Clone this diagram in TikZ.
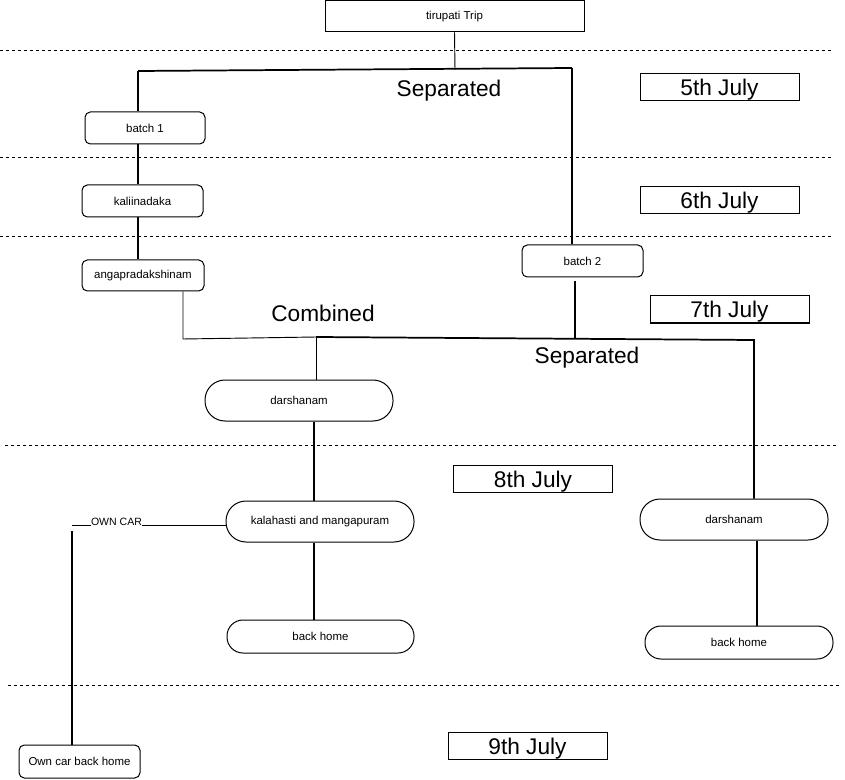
\documentclass[tikz,border=0pt]{standalone}
\usepackage{fontspec}
\setmainfont{Liberation Sans}
\begin{document}
\begin{tikzpicture}[x=0.75pt,y=-0.75pt,
  sharpbox/.style={draw,rectangle,line width=0.75pt,inner sep=0pt,font=\fontsize{8.6}{10}\selectfont},
  roundbox/.style={draw,rectangle,rounded corners=4pt,line width=0.75pt,inner sep=0pt,font=\fontsize{8.6}{10}\selectfont},
  pillbox/.style={draw,rectangle,rounded corners=15pt,line width=0.75pt,inner sep=0pt,font=\fontsize{8.6}{10}\selectfont},
  pillsmall/.style={draw,rectangle,rounded corners=12pt,line width=0.75pt,inner sep=0pt,font=\fontsize{8.6}{10}\selectfont},
  datebox/.style={draw,rectangle,line width=0.75pt,inner sep=0pt,minimum width=119.25pt,minimum height=20.25pt,text depth=0pt,font=\fontsize{17}{20}\selectfont},
  biglabel/.style={inner sep=0pt,yshift=-2pt,font=\fontsize{17}{20}\selectfont},
  smalllabel/.style={inner sep=0pt,font=\fontsize{7.9}{9}\selectfont},
  sepline/.style={line width=0.75pt,dash pattern=on 2.25pt off 2.25pt},
  link/.style={line width=1.3pt},
  thinlink/.style={line width=0.7pt}]
\useasboundingbox (0,0) rectangle (845,780);

% dashed day separators
\coordinate (s1a) at (0,51);  \coordinate (s1b) at (833,51);
\coordinate (s2a) at (0,158); \coordinate (s2b) at (833,158);
\coordinate (s3a) at (0,237); \coordinate (s3b) at (833,237);
\coordinate (s4a) at (5,445); \coordinate (s4b) at (837,445);
\coordinate (s5a) at (8,685); \coordinate (s5b) at (840,685);
\draw[sepline] (s1a) -- (s1b);
\draw[sepline] (s2a) -- (s2b);
\draw[sepline] (s3a) -- (s3b);
\draw[sepline] (s4a) -- (s4b);
\draw[sepline] (s5a) -- (s5b);

% nodes
\node[sharpbox,minimum width=194.25pt,minimum height=23.25pt] (trip) at (454.5,16.5) {tirupati Trip};
\node[roundbox,minimum width=90pt,minimum height=24pt] (batch1) at (145,128) {batch 1};
\node[roundbox,minimum width=90.75pt,minimum height=24pt] (kali) at (142.5,201) {kaliinadaka};
\node[roundbox,minimum width=91.5pt,minimum height=23.25pt] (anga) at (143,275.5) {angapradakshinam};
\node[roundbox,minimum width=90.75pt,minimum height=24pt] (batch2) at (582.5,261) {batch 2};
\node[pillbox,minimum width=141pt,minimum height=30.75pt] (dars1) at (299,400.5) {darshanam};
\node[pillbox,minimum width=141pt,minimum height=30.75pt] (kala) at (320,521.5) {kalahasti and mangapuram};
\node[pillsmall,minimum width=140.25pt,minimum height=24.75pt] (home1) at (320.5,636.5) {back home};
\node[pillbox,minimum width=141pt,minimum height=30.75pt] (dars2) at (734,519.5) {darshanam};
\node[pillsmall,minimum width=141pt,minimum height=24.75pt] (home2) at (739,642.5) {back home};
\node[roundbox,minimum width=90.75pt,minimum height=24.75pt] (owncar) at (79.5,761.5) {Own car back home};

% date boxes
\node[datebox] (d5) at (719.5,87) {5th July};
\node[datebox] (d6) at (719.5,200.5) {6th July};
\node[datebox] (d7) at (729.5,309.5) {7th July};
\node[datebox] (d8) at (533,479) {8th July};
\node[datebox] (d9) at (527.5,746) {9th July};

% labels
\node[biglabel] (sep1) at (449,88) {Separated};
\node[biglabel] (comb) at (323,311) {Combined};
\node[biglabel] (sep2) at (587,355) {Separated};
\node[smalllabel] (ocl) at (116.5,522) {OWN CAR};

% junction coordinates
\coordinate (j0) at (455,70);
\coordinate (jL) at (138,71);
\coordinate (jR) at (572,68);
\coordinate (c1) at (183,339);
\coordinate (c2) at (316,337);
\coordinate (c3) at (754,340);
\coordinate (c4) at (575,339);
\coordinate (c4t) at (575,281);
\coordinate (v1) at (314,460);
\coordinate (v2) at (757,580);
\coordinate (o1) at (72,525);
\coordinate (o2) at (72,531);
\coordinate (o3) at (142,525);
\coordinate (o4) at (91,525);

% connectors
\draw[thinlink] (trip.south) -- (j0);
\draw[link] (jL) -- (jR);
\draw[link] (jL) -- (batch1.north -| jL);
\draw[link] (jR) -- (batch2.north -| jR);
\draw[link] (batch1.south -| jL) -- (kali.north -| jL);
\draw[link] (kali.south -| jL) -- (anga.north -| jL);
\draw[thinlink] (anga.south -| c1) -- (c1) -- (c2);
\draw[link] (c2) -- (c3) -- (dars2.north -| c3);
\draw[thinlink] (c2) -- (dars1.north -| c2);
\draw[link] (c4t) -- (c4);
\draw[link] (dars1.south -| v1) -- (kala.north -| v1);
\draw[link] (kala.south -| v1) -- (home1.north -| v1);
\draw[link] (dars2.south -| v2) -- (home2.north -| v2);
\draw[thinlink] (kala.west |- o3) -- (o3);
\draw[thinlink] (o4) -- (o1);
\draw[link] (o2) -- (owncar.north -| o2);
\end{tikzpicture}
\end{document}
